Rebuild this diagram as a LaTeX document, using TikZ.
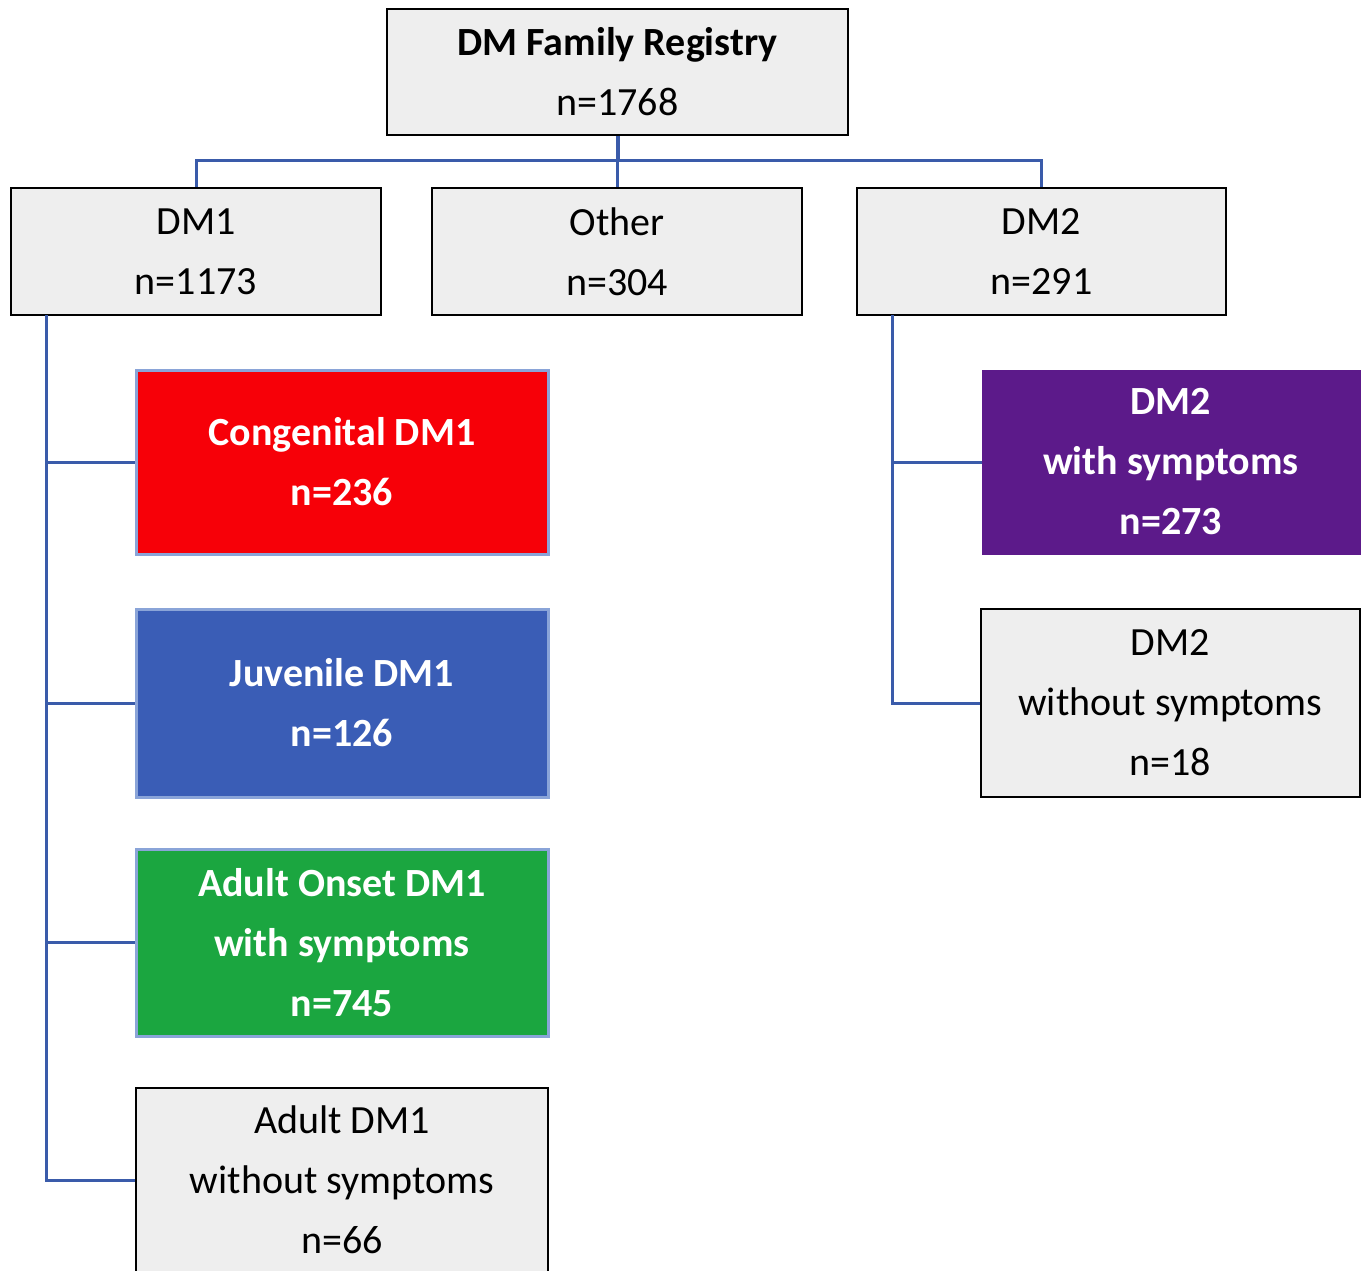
\documentclass[tikz,border=0pt]{standalone}
\usepackage{fontspec}
\setmainfont{Carlito}
\definecolor{boxgray}{HTML}{EEEEEE}
\definecolor{lineblue}{HTML}{3A5BAA}
\definecolor{cborder}{HTML}{8AA4D8}
\definecolor{cred}{HTML}{F70008}
\definecolor{cblue}{HTML}{3A5DB6}
\definecolor{cgreen}{HTML}{1BA640}
\definecolor{cpurple}{HTML}{5C1A8A}
\begin{document}
\begin{tikzpicture}[x=1pt,y=-1pt,
  box/.style={draw=black, line width=2.5pt, fill=boxgray, align=center, inner sep=0pt,
    font=\fontsize{40}{60}\selectfont},
  cbox/.style={draw=cborder, line width=3pt, text=white, align=center, inner sep=0pt,
    font=\fontsize{40}{60}\selectfont\bfseries},
  conn/.style={draw=lineblue, line width=3pt}]
\useasboundingbox (0,0) rectangle (1361,1271);
\clip (0,0) rectangle (1361,1271);
% top level
\node[box, minimum width=461pt, minimum height=126pt] (reg) at (617.5,72) {{\bfseries DM Family Registry}\\n=1768};
\node[box, minimum width=370pt, minimum height=127pt] (dm1) at (196,251.5) {DM1\\n=1173};
\node[box, minimum width=370pt, minimum height=127pt] (other) at (617,251.5) {Other\\n=304};
\node[box, minimum width=369pt, minimum height=127pt] (dm2) at (1041.5,251.5) {DM2\\n=291};
% DM1 subgroups
\node[cbox, fill=cred, minimum width=412pt, minimum height=184pt] (cong) at (342,462) {Congenital DM1\\n=236};
\node[cbox, fill=cblue, minimum width=412pt, minimum height=188pt] (juv) at (342,703) {Juvenile DM1\\n=126};
\node[cbox, fill=cgreen, minimum width=412pt, minimum height=187pt] (aon) at (342,942.5) {Adult Onset DM1\\with symptoms\\n=745};
\node[box, minimum width=412pt, minimum height=184pt] (ano) at (342,1180) {Adult DM1\\without symptoms\\n=66};
% DM2 subgroups
\node[cbox, draw=cpurple, fill=cpurple, minimum width=376pt, minimum height=182pt] (dsym) at (1171,462) {DM2\\with symptoms\\n=273};
\node[box, minimum width=379pt, minimum height=188pt] (dno) at (1170.5,703) {DM2\\without symptoms\\n=18};
% connectors top
\coordinate (j) at (617.5,161);
\draw[conn, line width=4pt] (reg.south) -- (j);
\draw[conn] (dm1.north) -- (dm1.north |- j) -- (dm2.north |- j) -- (dm2.north);
\draw[conn] (other.north) -- (other.north |- j);
% DM1 trunk
\coordinate (t1) at (46,315);
\draw[conn] (t1) |- (ano.west);
\draw[conn] (t1 |- cong.west) -- (cong.west);
\draw[conn] (t1 |- juv.west) -- (juv.west);
\draw[conn] (t1 |- aon.west) -- (aon.west);
% DM2 trunk
\coordinate (t2) at (892,315);
\draw[conn] (t2) |- (dno.west);
\draw[conn] (t2 |- dsym.west) -- (dsym.west);
\end{tikzpicture}
\end{document}
